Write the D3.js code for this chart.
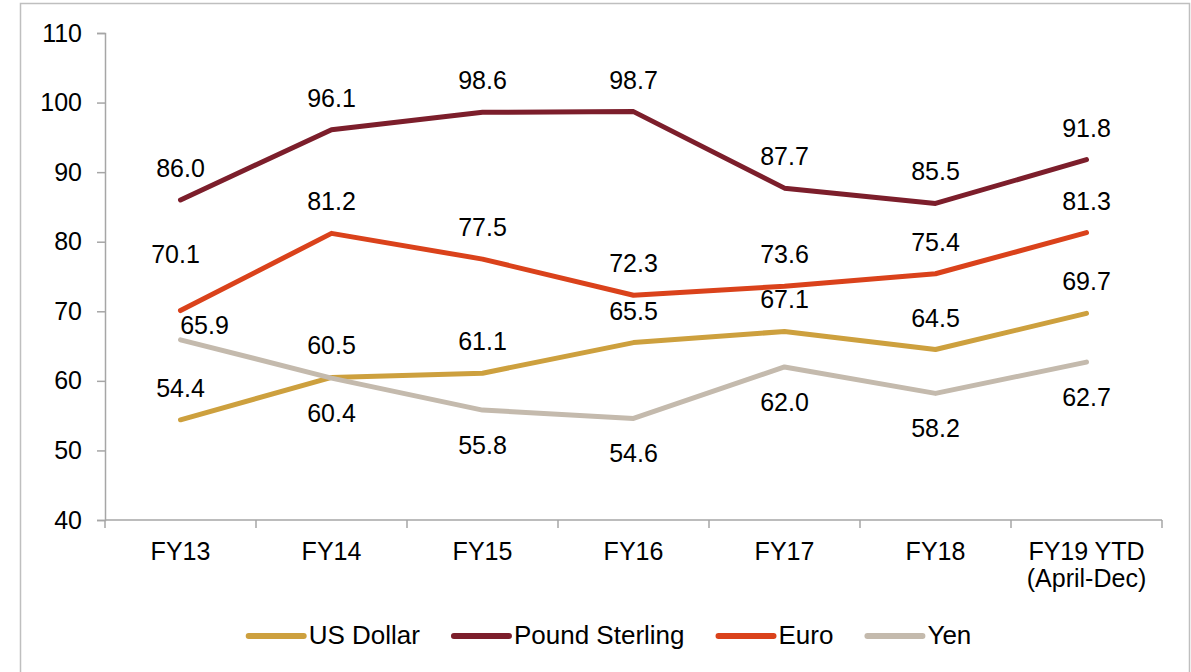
<!DOCTYPE html>
<html>
<head>
<meta charset="utf-8">
<script src="https://cdn.jsdelivr.net/npm/d3@7"></script>
<style>
  html, body { margin: 0; padding: 0; background: #fff; }
  svg text { font-family: "Liberation Sans", Arial, sans-serif; fill: #000; }
</style>
</head>
<body>
<div id="chart"></div>
<script>
var categories = ["FY13", "FY14", "FY15", "FY16", "FY17", "FY18", "FY19 YTD\n(April-Dec)"]
var yTicks = [40, 50, 60, 70, 80, 90, 100, 110]

var usDollar = [54.4, 60.5, 61.1, 65.5, 67.1, 64.5, 69.7]
var poundSterling = [86.0, 96.1, 98.6, 98.7, 87.7, 85.5, 91.8]
var euro = [70.1, 81.2, 77.5, 72.3, 73.6, 75.4, 81.3]
var yen = [65.9, 60.4, 55.8, 54.6, 62.0, 58.2, 62.7]

var series = [
    { name: "US Dollar", values: usDollar, color: "#CDA03E", label: "above" },
    { name: "Pound Sterling", values: poundSterling, color: "#7C1E2B", label: "above" },
    { name: "Euro", values: euro, color: "#DA421B", label: "above" },
    { name: "Yen", values: yen, color: "#C4BAAD", label: "below" }
]

var width = 1191, height = 672
var axisColor = "#A6A6A6"

var svg = d3.select("#chart").append("svg")
    .attr("width", width)
    .attr("height", height)

// outer frame
svg.append("rect")
    .attr("x", 20.5).attr("y", 3.5)
    .attr("width", 1169).attr("height", 720)
    .attr("fill", "none")
    .attr("stroke", "#BFBFBF")
    .attr("stroke-width", 1.5)

var x = d3.scaleBand().domain(categories).range([105, 1162])
var y = d3.scaleLinear().domain([40, 110]).range([520, 33])
var cx = function(i) { return x(categories[i]) + x.bandwidth() / 2 }

// y axis
var yAxis = svg.append("g")
    .attr("transform", "translate(105,0)")
    .call(d3.axisLeft(y).tickValues(yTicks).tickSize(8).tickPadding(15))
yAxis.select(".domain").attr("stroke", axisColor).attr("stroke-width", 1.5)
yAxis.selectAll(".tick line").attr("stroke", axisColor).attr("stroke-width", 1.5)
yAxis.selectAll(".tick text")
    .style("font-family", "Liberation Sans, Arial, sans-serif")
    .style("font-size", "25px")
    .attr("fill", "#000")

// x axis (ticks sit between categories)
var xg = svg.append("g")
xg.append("line")
    .attr("x1", x.range()[0]).attr("x2", x.range()[1])
    .attr("y1", y(40)).attr("y2", y(40))
    .attr("stroke", axisColor).attr("stroke-width", 1.5)
var bounds = categories.map(function(c) { return x(c) }).concat([x.range()[1]])
xg.selectAll(".xtick")
    .data(bounds)
    .enter().append("line")
    .attr("class", "xtick")
    .attr("x1", function(d) { return d }).attr("x2", function(d) { return d })
    .attr("y1", y(40)).attr("y2", y(40) + 8)
    .attr("stroke", axisColor).attr("stroke-width", 1.5)

xg.selectAll(".xlabel")
    .data(categories)
    .enter().append("text")
    .attr("class", "xlabel")
    .attr("text-anchor", "middle")
    .style("font-size", "25px")
    .each(function(d, i) {
        var t = d3.select(this)
        d.split("\n").forEach(function(line, k) {
            t.append("tspan")
                .attr("x", cx(i))
                .attr("y", 560 + k * 27)
                .text(line)
        })
    })

// lines
var line = d3.line()
    .x(function(d, i) { return cx(i) })
    .y(function(d) { return y(d) })

svg.append("g").selectAll("path")
    .data(series)
    .enter().append("path")
    .attr("d", function(s) { return line(s.values) })
    .attr("fill", "none")
    .attr("stroke", function(s) { return s.color })
    .attr("stroke-width", 5)
    .attr("stroke-linecap", "round")
    .attr("stroke-linejoin", "round")

// data labels; two of them were nudged by hand in the original
var nudge = { "Euro-0": [-5, -25], "Yen-0": [24, -50] }
series.forEach(function(s) {
    svg.append("g").selectAll("text")
        .data(s.values)
        .enter().append("text")
        .attr("text-anchor", "middle")
        .style("font-size", "25px")
        .attr("x", function(d, i) {
            var n = nudge[s.name + "-" + i]
            return cx(i) + (n ? n[0] : 0)
        })
        .attr("y", function(d, i) {
            var n = nudge[s.name + "-" + i]
            var base = s.label == "above" ? y(d) - 23 : y(d) + 44
            return base + (n ? n[1] : 0)
        })
        .text(function(d) { return d.toFixed(1) })
})

// legend
var legend = svg.append("g")
var lx = 0
var items = legend.selectAll("g")
    .data(series)
    .enter().append("g")
items.append("line")
    .attr("x1", 0).attr("x2", 55)
    .attr("y1", 0).attr("y2", 0)
    .attr("stroke", function(s) { return s.color })
    .attr("stroke-width", 6)
    .attr("stroke-linecap", "round")
items.append("text")
    .attr("x", 60)
    .attr("y", 8)
    .style("font-size", "26px")
    .text(function(s) { return s.name })
items.each(function() {
    var w = 60 + this.querySelector("text").getComputedTextLength()
    d3.select(this).attr("transform", "translate(" + lx + ",0)")
    lx += w + 34
})
lx -= 34
legend.attr("transform", "translate(" + (610 - lx / 2) + ",636)")
</script>
</body>
</html>
